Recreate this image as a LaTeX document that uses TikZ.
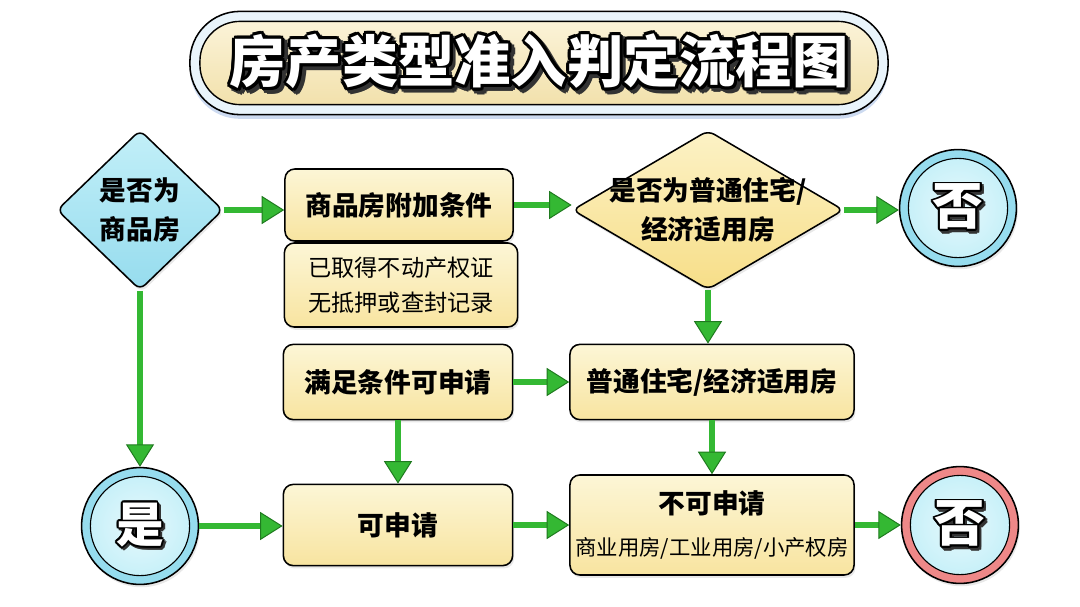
\documentclass[tikz,border=0pt]{standalone}
\usepackage{fontspec}
\setmainfont{Noto Sans CJK SC}
\usepackage{xcolor}
\usepackage{tikz}
\usetikzlibrary{arrows.meta,positioning,shapes.geometric,shadows}

\definecolor{arrgreen}{HTML}{34B833}
\definecolor{arrdark}{HTML}{1F7A1F}
\definecolor{boxtop}{HTML}{FCF6D6}
\definecolor{boxbot}{HTML}{F8E4A0}
\definecolor{cyantop}{HTML}{C2EFF8}
\definecolor{cyanbot}{HTML}{96DCEE}
\definecolor{goldtop}{HTML}{FCF2C6}
\definecolor{goldbot}{HTML}{F7DE88}
\definecolor{ringred}{HTML}{EE8888}
\definecolor{pillring}{HTML}{E9F4FB}
\definecolor{pilltop}{HTML}{FBF3D8}
\definecolor{pillbot}{HTML}{F2E1AC}

% white letters with a black rim and a dark drop
\newcommand\outlinetxt[3]{{%
  \setbox0=\hbox{#3}%
  \foreach \a in {0,45,...,315}{%
    \pgfmathsetlengthmacro\dx{#1*cos(\a)}%
    \pgfmathsetlengthmacro\dy{#1*sin(\a)}%
    \rlap{\kern\dimexpr\dx+#2\relax\raise\dimexpr\dy-#2\relax\hbox{\color{black!80}\copy0}}}%
  \foreach \a in {0,30,...,330}{%
    \pgfmathsetlengthmacro\dx{#1*cos(\a)}%
    \pgfmathsetlengthmacro\dy{#1*sin(\a)}%
    \rlap{\kern\dx\raise\dy\hbox{\color{black}\copy0}}}%
  \hbox{\color{white}\copy0}}}

\begin{document}
\begin{tikzpicture}[x=0.025cm, y=-0.025cm,
  font=\fontsize{19}{28}\selectfont\bfseries,
  box/.style={draw=black, line width=1.1pt, rounded corners=7pt,
              top color=boxtop, bottom color=boxbot, inner sep=0pt, align=center,
              drop shadow={opacity=0.18, shadow xshift=1pt, shadow yshift=-2pt}},
  dia/.style={diamond, draw=black, line width=1.1pt, rounded corners=5pt, inner sep=0pt,
              drop shadow={opacity=0.18, shadow xshift=1pt, shadow yshift=-2pt}},
  circ/.style={circle, draw=black, line width=1.1pt, inner sep=0pt, minimum size=2.92cm,
              drop shadow={opacity=0.18, shadow xshift=1pt, shadow yshift=-2pt}},
  ring/.style={path picture={\draw[line width=0.8pt, inner color=white!60!cyantop, outer color=cyantop]
              (path picture bounding box.center) circle (1.24cm);}},
  arr/.style={line width=4.2pt, draw=arrgreen,
              -{Triangle[length=16pt, width=20pt, fill=arrgreen, color=arrdark, line width=0.7pt]}}]
\fill[white] (0,0) rectangle (1080,606);
\useasboundingbox (0,0) rectangle (1080,606);
% --- title ---
\node[draw=black, line width=1.1pt, rounded corners=1.25cm, fill=pillring,
      minimum width=17.45cm, minimum height=2.58cm,
      drop shadow={fill=cyan!50!blue!40, opacity=0.5, shadow xshift=0pt, shadow yshift=-3pt}]
  (ttlout) at (539,63) {};
\node[draw=black, line width=1pt, rounded corners=1cm, top color=pilltop, bottom color=pillbot,
      minimum width=16.95cm, minimum height=2.08cm] (ttlin) at (ttlout) {};
\node (ttltxt) at (ttlin) {\outlinetxt{2.2pt}{2.4pt}{\fontsize{40}{40}\selectfont\bfseries 房产类型准入判定流程图}};
% --- first row ---
\node[dia, top color=cyantop, bottom color=cyanbot, minimum width=4.15cm, minimum height=4cm]
  (d1) at (140,210) {};
\node[align=center] (d1txt) at (d1) {是否为\\商品房};
\node[box, minimum width=5.7cm, minimum height=1.8cm] (b1) at (399,205) {商品房附加条件};
\node[box, minimum width=5.83cm, minimum height=2.1cm,
      font=\fontsize{16.5}{25}\selectfont\mdseries] (b2) at (401,285)
  {已取得不动产权证\\无抵押或查封记录};
\node[dia, top color=goldtop, bottom color=goldbot, minimum width=6.78cm, minimum height=3.98cm]
  (d2) at (708,210) {};
\node[align=center] (d2txt) at (d2) {是否为普通住宅/\\经济适用房};
\node[circ, fill=cyanbot, ring] (no1) at (958,208)
  {\outlinetxt{1.4pt}{1.6pt}{\fontsize{36}{36}\selectfont\bfseries 否}};
% --- middle row ---
\node[box, minimum width=5.73cm, minimum height=1.88cm] (b3) at (398,382) {满足条件可申请};
\node[box, minimum width=7.1cm, minimum height=1.88cm] (b4) at (712,382) {普通住宅/经济适用房};
% --- last row ---
\node[circ, fill=cyanbot, ring] (yes) at (140,526)
  {\outlinetxt{1.4pt}{1.6pt}{\fontsize{34}{34}\selectfont\bfseries 是}};
\node[box, minimum width=5.73cm, minimum height=2.03cm] (b5) at (398,525) {可申请};
\node[box, minimum width=7.1cm, minimum height=2.5cm] (b6) at (712,525)
  {不可申请\\[2pt]{\fontsize{15.2}{18}\selectfont\mdseries 商业用房/工业用房/小产权房}};
\node[circ, fill=ringred, ring] (no2) at (960,525)
  {\outlinetxt{1.4pt}{1.6pt}{\fontsize{36}{36}\selectfont\bfseries 否}};
% --- connectors ---
\draw[arr] (d1.east) -- (d1.east -| b1.west);
\draw[arr] (b1.east) -- (b1.east -| d2.west);
\draw[arr] (d2.east) -- (d2.east -| no1.west);
\draw[arr] (d2.south) -- (d2.south |- b4.north);
\draw[arr] (b3.east) -- (b4.west);
\draw[arr] (d1.south) -- (yes.north);
\draw[arr] (b3.south) -- (b5.north);
\draw[arr] (b4.south) -- (b6.north);
\draw[arr] (yes.east) -- (yes.east -| b5.west);
\draw[arr] (b5.east) -- (b6.west);
\draw[arr] (b6.east) -- (b6.east -| no2.west);
\end{tikzpicture}
\end{document}
